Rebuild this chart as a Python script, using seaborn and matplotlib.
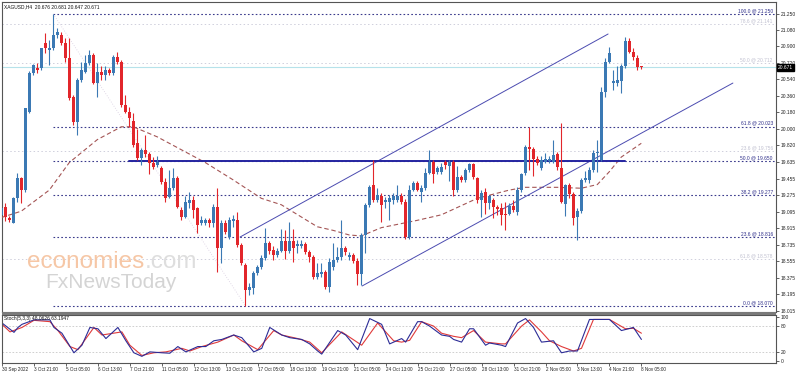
import numpy as np
import pandas as pd
import matplotlib
matplotlib.use("Agg")
import matplotlib.pyplot as plt
import matplotlib.transforms as mtransforms
from matplotlib.patches import Rectangle
import seaborn as sns

# ---------------- data (XAGUSD H4 candles) ----------------
opens = [19.06, 19.15, 19.03, 18.97, 19.24, 19.46, 19.33, 20.18, 20.61, 20.66,
         20.66, 20.93, 20.86, 20.88, 21.02, 21.02, 20.93, 20.77, 20.34, 20.07,
         20.53, 20.62, 20.72, 20.80, 20.50, 20.62, 20.58, 20.64, 20.61, 20.78,
         20.73, 20.26, 20.18, 20.08, 19.84, 19.68, 19.77, 19.72, 19.63, 19.60,
         19.57, 19.42, 19.25, 19.35, 19.46, 19.11, 19.04, 19.19, 19.22, 19.13,
         18.97, 18.97, 19.00, 18.97, 19.15, 18.70, 18.97, 18.82, 18.99, 19.00,
         18.73, 18.51, 18.24, 18.26, 18.43, 18.49, 18.59, 18.75, 18.68, 18.62,
         18.67, 18.78, 18.67, 18.78, 18.72, 18.72, 18.74, 18.65, 18.60, 18.38,
         18.42, 18.44, 18.27, 18.49, 18.57, 18.60, 18.70, 18.60, 18.62, 18.56,
         18.42, 18.84, 19.17, 19.39, 19.22, 19.27, 19.20, 19.20, 19.22, 19.22,
         19.26, 19.20, 18.82, 19.33, 19.41, 19.31, 19.35, 19.52, 19.64, 19.53,
         19.53, 19.64, 19.59, 19.64, 19.33, 19.47, 19.44, 19.55, 19.61, 19.46,
         19.22, 19.31, 19.19, 19.22, 19.15, 19.13, 19.07, 19.07, 19.16, 19.09,
         19.33, 19.52, 19.80, 19.78, 19.67, 19.57, 19.64, 19.65, 19.64, 19.72,
         19.57, 19.18, 19.38, 19.29, 19.04, 19.10, 19.44, 19.44, 19.55, 19.73,
         19.66, 20.40, 20.73, 20.50, 20.50, 20.52, 20.68, 20.96, 20.84, 20.77,
         20.676]
highs = [19.16, 19.19, 19.05, 19.25, 19.52, 19.47, 20.23, 20.63, 20.71, 20.72,
         20.88, 21.04, 20.97, 21.25, 21.10, 21.05, 20.99, 20.99, 20.37, 20.55,
         20.73, 20.80, 20.86, 20.83, 20.72, 20.68, 20.68, 20.66, 20.80, 20.84,
         20.75, 20.37, 20.24, 20.17, 20.00, 19.79, 19.93, 19.75, 19.69, 19.70,
         19.59, 19.46, 19.55, 19.57, 19.48, 19.15, 19.26, 19.31, 19.26, 19.15,
         19.05, 19.02, 19.03, 19.18, 19.35, 19.00, 19.00, 19.04, 19.06, 19.09,
         18.75, 18.53, 18.32, 18.45, 18.51, 18.62, 18.92, 18.77, 18.72, 18.70,
         18.91, 18.89, 18.98, 18.91, 18.79, 18.79, 18.76, 18.68, 18.62, 18.53,
         18.53, 18.46, 18.59, 18.75, 18.71, 19.00, 18.72, 18.65, 18.64, 18.59,
         18.86, 19.19, 19.39, 19.66, 19.35, 19.30, 19.25, 19.28, 19.30, 19.38,
         19.30, 19.23, 19.39, 19.43, 19.43, 19.38, 19.57, 19.77, 19.66, 19.59,
         19.62, 19.66, 19.66, 19.66, 19.59, 19.49, 19.57, 19.62, 19.62, 19.47,
         19.33, 19.35, 19.28, 19.24, 19.17, 19.19, 19.20, 19.19, 19.22, 19.36,
         19.52, 19.82, 20.02, 19.80, 19.70, 19.70, 19.73, 19.70, 19.88, 19.74,
         20.06, 19.40, 19.41, 19.31, 19.13, 19.46, 19.54, 19.58, 19.77, 19.88,
         20.45, 20.77, 20.89, 20.64, 20.68, 20.70, 21.00, 20.99, 20.88, 20.80,
         20.681]
lows = [19.03, 18.99, 18.98, 18.97, 19.20, 19.19, 19.31, 20.17, 20.58, 20.61,
        20.64, 20.83, 20.69, 20.86, 20.99, 20.91, 20.73, 20.31, 20.04, 19.93,
        20.51, 20.61, 20.69, 20.49, 20.35, 20.53, 20.53, 20.58, 20.58, 20.70,
        20.24, 20.17, 20.02, 19.80, 19.66, 19.60, 19.69, 19.51, 19.56, 19.58,
        19.40, 19.20, 19.24, 19.33, 19.13, 19.00, 19.02, 19.13, 19.02, 18.86,
        18.95, 18.95, 18.93, 18.93, 18.44, 18.53, 18.85, 18.80, 18.93, 18.71,
        18.51, 18.07, 18.19, 18.20, 18.40, 18.47, 18.57, 18.63, 18.57, 18.60,
        18.65, 18.58, 18.64, 18.55, 18.64, 18.70, 18.63, 18.55, 18.36, 18.36,
        18.38, 18.25, 18.22, 18.46, 18.55, 18.57, 18.62, 18.57, 18.54, 18.30,
        18.30, 18.64, 19.15, 19.20, 19.20, 18.98, 19.13, 19.00, 19.18, 19.20,
        19.18, 18.80, 18.80, 19.32, 19.32, 19.20, 19.33, 19.50, 19.41, 19.51,
        19.51, 19.56, 19.43, 19.27, 19.31, 19.42, 19.42, 19.53, 19.45, 19.19,
        19.04, 19.07, 19.12, 19.03, 19.06, 18.95, 18.89, 19.06, 19.09, 19.06,
        19.31, 19.49, 19.55, 19.48, 19.60, 19.55, 19.62, 19.62, 19.62, 19.55,
        19.19, 19.05, 19.24, 18.95, 18.79, 19.08, 19.42, 19.41, 19.53, 19.53,
        19.65, 20.35, 20.72, 20.42, 20.46, 20.39, 20.66, 20.82, 20.75, 20.64,
        20.647]
closes = [19.13, 19.04, 19.00, 19.24, 19.46, 19.33, 20.22, 20.61, 20.69, 20.64,
          20.88, 20.88, 20.88, 21.02, 21.05, 20.93, 20.77, 20.33, 20.07, 20.53,
          20.64, 20.72, 20.80, 20.50, 20.62, 20.58, 20.64, 20.61, 20.78, 20.73,
          20.26, 20.18, 20.12, 19.82, 19.68, 19.77, 19.72, 19.63, 19.58, 19.64,
          19.42, 19.24, 19.35, 19.46, 19.15, 19.04, 19.20, 19.22, 19.11, 18.95,
          19.00, 19.00, 18.97, 19.15, 18.70, 18.97, 18.87, 19.00, 19.01, 18.73,
          18.53, 18.24, 18.27, 18.43, 18.49, 18.59, 18.75, 18.67, 18.62, 18.67,
          18.78, 18.67, 18.78, 18.70, 18.74, 18.74, 18.66, 18.60, 18.38, 18.43,
          18.44, 18.27, 18.55, 18.57, 18.60, 18.70, 18.66, 18.62, 18.56, 18.42,
          18.84, 19.17, 19.36, 19.22, 19.28, 19.17, 19.22, 19.24, 19.26, 19.27,
          19.20, 18.82, 19.33, 19.41, 19.33, 19.35, 19.52, 19.64, 19.50, 19.57,
          19.58, 19.60, 19.64, 19.33, 19.47, 19.44, 19.55, 19.61, 19.47, 19.22,
          19.30, 19.19, 19.26, 19.15, 19.12, 19.06, 19.06, 19.16, 19.11, 19.33,
          19.50, 19.80, 19.78, 19.67, 19.62, 19.66, 19.67, 19.67, 19.71, 19.58,
          19.20, 19.38, 19.29, 19.03, 19.10, 19.44, 19.46, 19.55, 19.73, 19.75,
          20.40, 20.73, 20.82, 20.52, 20.53, 20.68, 20.96, 20.84, 20.78, 20.67,
          20.671]

# moving average (dashed brown line), read at selected bars
ma_idx = [0, 5, 12, 17, 24, 30, 33, 39, 45, 51, 58, 65, 70, 79, 83, 87, 90, 95,
          104, 110, 119, 127, 131, 139, 145, 149, 152, 155, 160]
ma_val = [19.03, 19.10, 19.33, 19.63, 19.88, 20.02, 20.02, 19.91, 19.77, 19.63,
          19.44, 19.24, 19.17, 18.93, 18.89, 18.84, 18.83, 18.92, 19.00, 19.06,
          19.24, 19.33, 19.36, 19.36, 19.35, 19.39, 19.53, 19.69, 19.84]

# stochastic %K (blue) and %D (red)
k_idx = [0, 3, 4, 5, 8, 12, 13, 15, 18, 20, 22, 24, 26, 29, 31, 33, 35, 37, 40, 42,
         44, 46, 49, 51, 53, 55, 58, 60, 63, 65, 67, 70, 72, 75, 77, 79, 80, 84, 86,
         89, 92, 95, 97, 100, 101, 104, 105, 107, 110, 112, 113, 115, 117, 118, 121,
         122, 125, 126, 129, 131, 133, 135, 138, 140, 142, 144, 147, 150, 152, 155,
         158, 160]
k_val = [86, 65, 76, 83, 93, 93, 76, 63, 19, 36, 76, 73, 51, 76, 46, 19, 11, 21, 19, 18,
         33, 21, 33, 33, 46, 49, 59, 53, 21, 29, 76, 59, 53, 49, 39, 23, 16, 69, 59,
         26, 96, 83, 39, 51, 43, 89, 89, 79, 59, 56, 49, 43, 73, 73, 36,
         41, 36, 33, 86, 96, 76, 43, 46, 19, 23, 23, 94, 94, 94, 69,
         76, 49]
d_idx = [0, 2, 5, 8, 12, 14, 17, 19, 23, 25, 30, 32, 35, 38, 41, 45, 47, 50, 54, 58,
         60, 64, 68, 70, 74, 77, 80, 85, 90, 94, 98, 100, 102, 105, 108, 110, 113, 115,
         118, 121, 125, 126, 130, 132, 135, 137, 140, 143, 145, 148, 152, 156, 158, 160]
d_val = [83, 66, 76, 92, 89, 69, 33, 26, 76, 59, 66, 36, 13, 19, 21, 29, 23, 33, 43, 59,
         46, 26, 69, 59, 51, 43, 19, 66, 36, 86, 46, 43, 47, 89, 79, 63, 56, 53,
         69, 43, 39, 39, 79, 93, 66, 46, 33, 23, 29, 94, 94, 73, 74, 63]

price_ticks = [21.250, 21.080, 20.900, 20.720, 20.540, 20.360, 20.180, 20.000, 19.820,
               19.635, 19.455, 19.275, 19.095, 18.915, 18.735, 18.555, 18.375, 18.195,
               18.015]

fib_levels = [21.250, 20.023, 19.650, 19.277, 18.816, 18.070]
fib_labels = ["100.0 @ 21.250", "61.8 @ 20.023", "50.0 @ 19.650", "38.2 @ 19.277",
              "23.6 @ 18.816", "0.0 @ 18.070"]
fib2_levels = [21.141, 20.712, 19.756, 18.578]
fib2_labels = ["78.6 @ 21.141", "50.0 @ 20.712", "23.6 @ 19.756", "61.8 @ 18.578"]

support_level = 19.650
support_span = [32, 156]
channel_upper = ([59.7, 151.7], [18.818, 21.032])
channel_lower = ([90.2, 182.9], [18.284, 20.497])
fib_trend = ([13, 61], [21.250, 18.070])

x_tick_labels = ["30 Sep 2022", "3 Oct 21:00", "5 Oct 05:00", "6 Oct 13:00", "7 Oct 21:00",
                 "11 Oct 05:00", "12 Oct 13:00", "13 Oct 21:00", "17 Oct 05:00",
                 "18 Oct 13:00", "19 Oct 21:00", "21 Oct 05:00", "24 Oct 13:00",
                 "25 Oct 21:00", "27 Oct 05:00", "28 Oct 13:00", "31 Oct 21:00",
                 "2 Nov 05:00", "3 Nov 13:00", "4 Nov 21:00", "8 Nov 05:00"]
x_tick_idx = list(range(0, 8 * len(x_tick_labels), 8))

title_text = "XAGUSD,H4  20.676 20.681 20.647 20.671"
stoch_text = "Stoch(5,3,3) 48.0626 63.1947"
last_price = 20.671

# ---------------- drawing ----------------
sns.set_style("white")
plt.rcParams['font.family'] = ['Liberation Sans', 'DejaVu Sans']
FS = 3.5

W_PX, H_PX = 798, 372
fig = plt.figure(figsize=(W_PX / 100, H_PX / 100), dpi=100)
fig.patch.set_facecolor("white")

L = 2 / W_PX
AW = (776 - 2) / W_PX
ax = fig.add_axes([L, (H_PX - 312) / H_PX, AW, 310 / H_PX])
ax2 = fig.add_axes([L, (H_PX - 363) / H_PX, AW, 48 / H_PX])

df = pd.DataFrame({"o": opens, "h": highs, "l": lows, "c": closes})
df["i"] = np.arange(len(df))
bull = "#3b79b4"
bear = "#e2262b"
cols = np.where(df["c"] >= df["o"], bull, bear)

# watermark (behind)
fig.text(27 / W_PX, 1 - 268 / H_PX, "economies", color="#f6c7a6", fontsize=17.5,
         va="baseline", zorder=0)
fig.text(145 / W_PX, 1 - 268 / H_PX, ".com", color="#dedede", fontsize=17.5,
         va="baseline", zorder=0)
fig.text(45 / W_PX, 1 - 288 / H_PX, "FxNewsToday", color="#d4d4d4", fontsize=15,
         va="baseline", zorder=0)
ax.patch.set_alpha(0)
ax2.patch.set_alpha(0)

x0, x1 = (2 - 1.3) / 4, (776 - 1.3) / 4
ax.set_xlim(x0, x1)
ax.set_ylim(18.0003, 21.3809)

# light fib set and bid line
for lv in fib2_levels:
    ax.axhline(lv, color="#cfcfdc", lw=0.7, ls=(0, (1.5, 2.5)), zorder=1)
for lv, lb in zip(fib2_levels, fib2_labels):
    ax.text(x1 - 0.8, lv + 0.008, lb, ha="right", va="bottom", fontsize=FS,
            color="#c0c0d0", zorder=2)
ax.axhline(last_price, color="#b6e2ea", lw=0.8, zorder=1)

# main fib set
for lv, lb in zip(fib_levels, fib_labels):
    ax.plot([fib_trend[0][0], x1], [lv, lv], color="#3a3a8c", lw=0.8,
            ls=(0, (1.5, 2)), zorder=2)
    ax.text(x1 - 0.8, lv + 0.008, lb, ha="right", va="bottom", fontsize=FS,
            color="#2e2e8a", zorder=3)
ax.plot(fib_trend[0], fib_trend[1], color="#d8cde0", lw=0.6, ls=(0, (1, 2)), zorder=2)

# moving average
sns.lineplot(x=ma_idx, y=ma_val, ax=ax, color="#a45555", lw=0.8,
             linestyle=(0, (4, 2.5)), zorder=3)

# channel and support
ax.plot(channel_upper[0], channel_upper[1], color="#4b4bb0", lw=0.7, zorder=4)
ax.plot(channel_lower[0], channel_lower[1], color="#4b4bb0", lw=0.7, zorder=4)
ax.plot(support_span, [support_level, support_level], color="#2424a0", lw=1.4, zorder=4)

# candles
ax.vlines(df["i"], df["l"], df["h"], colors=cols, lw=0.8, zorder=5)
body_lo = np.minimum(df["o"], df["c"])
body_h = np.maximum(np.abs(df["c"] - df["o"]), 0.008)
ax.bar(df["i"], body_h, bottom=body_lo, width=0.62, color=cols, lw=0, zorder=6)

# price axis on the right
ax.yaxis.tick_right()
ax.set_yticks(price_ticks)
ax.set_yticklabels([f"{t:.3f}" for t in price_ticks])
ax.tick_params(axis="y", which="both", right=True, length=2, width=0.5, pad=1.5,
               labelsize=FS, colors="#222222")
ax.tick_params(axis="x", bottom=False, labelbottom=False)
for s in ax.spines.values():
    s.set_color("#555555")
    s.set_linewidth(0.8)

trans = mtransforms.blended_transform_factory(ax.transAxes, ax.transData)
ax.text(1.002, last_price, f"{last_price:.3f}", transform=trans, ha="left", va="center",
        fontsize=FS, color="white", zorder=10,
        bbox=dict(boxstyle="square,pad=0.2", fc="black", ec="black"))
ax.text(0.003, 0.994, title_text, transform=ax.transAxes, ha="left", va="top",
        fontsize=FS, color="#111111")
ax.set_xlabel("")
ax.set_ylabel("")

# stochastic
ax2.set_xlim(x0, x1)
ax2.set_ylim(-4, 104)
ax2.axhline(80, color="#c8c8c8", lw=0.6, ls=(0, (2, 2)))
ax2.axhline(20, color="#c8c8c8", lw=0.6, ls=(0, (2, 2)))
sns.lineplot(x=d_idx, y=d_val, ax=ax2, color="#e03a3a", lw=0.8)
sns.lineplot(x=k_idx, y=k_val, ax=ax2, color="#2c2c96", lw=0.8)
ax2.yaxis.tick_right()
ax2.set_yticks([0, 20, 80, 100])
ax2.set_yticklabels(["0", "20", "80", "100"])
ax2.tick_params(axis="y", right=True, length=2, width=0.5, pad=1.5, labelsize=FS,
                colors="#222222")
ax2.set_xticks(x_tick_idx)
ax2.set_xticklabels(x_tick_labels, ha="left")
ax2.tick_params(axis="x", bottom=True, length=2, width=0.5, pad=1.2, labelsize=3.3,
                colors="#222222")
for s in ax2.spines.values():
    s.set_color("#555555")
    s.set_linewidth(0.8)
ax2.text(0.003, 0.97, stoch_text, transform=ax2.transAxes, ha="left", va="top",
         fontsize=FS, color="#111111")
ax2.set_xlabel("")
ax2.set_ylabel("")

# thick panel separator
fig.patches.append(Rectangle((L, (H_PX - 315) / H_PX), AW, 3 / H_PX,
                             transform=fig.transFigure, fc="#7a7a7a", ec="none",
                             zorder=20))

fig.savefig("out.png", dpi=100, facecolor="white")
